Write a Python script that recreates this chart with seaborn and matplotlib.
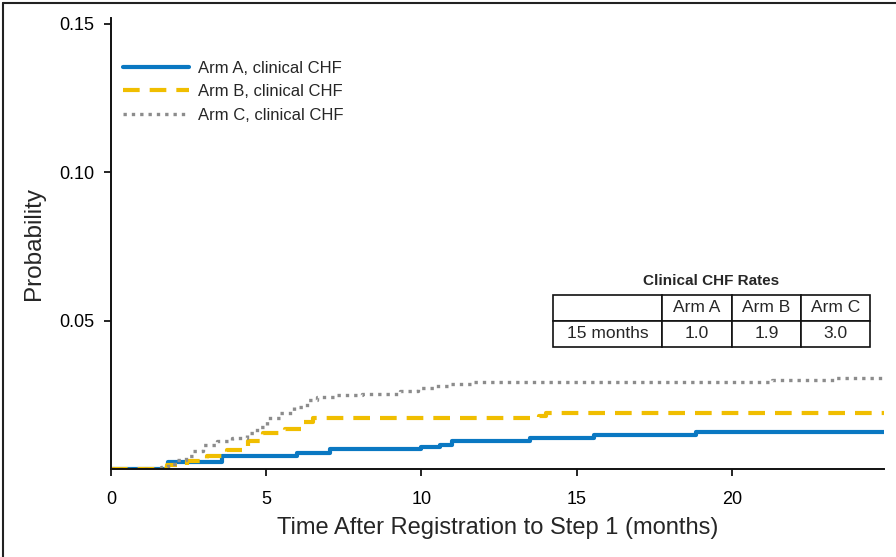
"""
Cumulative incidence of clinical CHF by treatment arm.
"""
import matplotlib
matplotlib.use('Agg')
import matplotlib.pyplot as plt
from matplotlib.lines import Line2D
import seaborn as sns
import pandas as pd

# step curves (months, probability)
arm_a_time = [0, 1.84, 3.57, 6.0, 7.06, 10.0, 10.6, 11.0, 13.5, 15.55, 18.85, 24.9]
arm_a_prob = [0, 0.0022, 0.0045, 0.0054, 0.0066, 0.0073, 0.0081, 0.0095, 0.0104, 0.0114, 0.0125, 0.0125]

arm_b_time = [0, 1.8, 2.45, 3.1, 3.75, 4.4, 4.9, 5.6, 6.2, 6.5, 13.8, 14.0, 24.9]
arm_b_prob = [0, 0.0012, 0.0026, 0.0045, 0.0065, 0.0093, 0.0120, 0.0134, 0.0160, 0.0171, 0.0180, 0.0188, 0.0188]

arm_c_time = [0, 1.6, 1.85, 2.1, 2.4, 2.65, 2.97, 3.4, 3.9, 4.37, 4.7, 5.02, 5.45, 5.88,
              6.3, 6.63, 7.2, 8.1, 9.3, 9.9, 10.4, 10.9, 11.6, 21.3, 23.35, 24.9]
arm_c_prob = [0, 0.0008, 0.0016, 0.0031, 0.0045, 0.0059, 0.0082, 0.0093, 0.0104, 0.0120, 0.0143,
              0.0171, 0.0190, 0.0210, 0.0233, 0.0244, 0.0250, 0.0254, 0.0262, 0.0273, 0.0280,
              0.0286, 0.0293, 0.0301, 0.0308, 0.0308]

arm_labels = ['Arm A, clinical CHF', 'Arm B, clinical CHF', 'Arm C, clinical CHF']

# inset table
table_title = 'Clinical CHF Rates'
table_header = ['', 'Arm A', 'Arm B', 'Arm C']
table_row = ['15 months', '1.0', '1.9', '3.0']

x_ticks = [0, 5, 10, 15, 20]
y_ticks = [0.05, 0.10, 0.15]

sns.set_style('ticks')
plt.rcParams['font.family'] = ['Liberation Sans', 'DejaVu Sans']

fig = plt.figure(figsize=(8.96, 5.57), dpi=100)
ax = fig.add_axes([0.1239, 0.158, 0.8627, 0.8097])

curves = [
    (arm_a_time, arm_a_prob, '#0a78c2', '-', 3.0),
    (arm_b_time, arm_b_prob, '#f0be00', (0, (4.0, 2.4)), 3.0),
    (arm_c_time, arm_c_prob, '#8c8c8c', (0, (1.0, 1.5)), 2.4),
]

for (t, p, color, ls, lw), label in zip(curves, arm_labels):
    df = pd.DataFrame({'time': t, 'prob': p})
    sns.lineplot(data=df, x='time', y='prob', ax=ax, color=color, linestyle=ls,
                 linewidth=lw, drawstyle='steps-post', estimator=None, sort=False,
                 errorbar=None, label=label)

ax.set_xlim(0, 24.9)
ax.set_ylim(0, 0.152)
ax.set_xticks(x_ticks)
ax.set_yticks(y_ticks)
ax.set_yticklabels(['0.05', '0.10', '0.15'])
ax.tick_params(direction='out', length=5, width=1.2, labelsize=13, colors='black')
ax.tick_params(axis='y', pad=7)
ax.tick_params(axis='x', pad=11)
sns.despine(ax=ax)
for side in ['left', 'bottom']:
    ax.spines[side].set_linewidth(1.4)
    ax.spines[side].set_color('#111111')

ax.set_xlabel('Time After Registration to Step 1 (months)', fontsize=17, labelpad=6)
ax.set_ylabel('Probability', fontsize=17.5, labelpad=10)

ax.legend(loc='upper left', bbox_to_anchor=(0.015, 0.905), frameon=False,
          fontsize=12, handlelength=4.0, handletextpad=0.55, labelspacing=0.5,
          borderpad=0, borderaxespad=0)

# inset rates table
tbl = ax.table(cellText=[table_header, table_row], cellLoc='center',
               colWidths=[109, 70, 69, 69],
               bbox=[0.572, 0.2705, 0.410, 0.1153])
tbl.auto_set_font_size(False)
tbl.set_fontsize(12.5)
for cell in tbl.get_celld().values():
    cell.set_linewidth(1.2)
    cell.set_edgecolor('#111111')
ax.text(0.7766, 0.417, table_title, transform=ax.transAxes, ha='center', va='center',
        fontsize=11, fontweight='bold')

# frame lines on left and top of the figure
fig.add_artist(Line2D([0.0035, 0.0035], [0, 0.9946], transform=fig.transFigure,
                      color='#222222', linewidth=1.5))
fig.add_artist(Line2D([0.0035, 1], [0.9946, 0.9946], transform=fig.transFigure,
                      color='#222222', linewidth=1.5))

fig.savefig('out.png', dpi=100)
